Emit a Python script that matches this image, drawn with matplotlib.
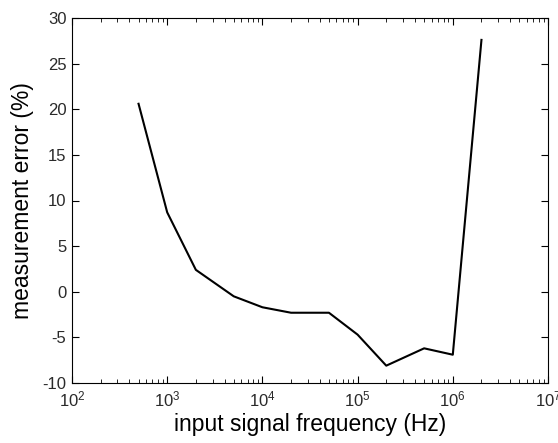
import matplotlib
matplotlib.use("Agg")
import matplotlib.pyplot as plt
import numpy as np
from matplotlib.ticker import LogLocator, NullFormatter

plt.rcParams['font.family'] = ['Liberation Sans', 'DejaVu Sans']
plt.rcParams['mathtext.fontset'] = 'custom'
plt.rcParams['mathtext.rm'] = 'Liberation Sans'
plt.rcParams['axes.unicode_minus'] = False

# input frequency (Hz) and measurement error (%)
freq = [500, 1000, 2000, 5000, 1e4, 2e4, 5e4, 1e5, 2e5, 5e5, 1e6, 2e6]
error = [20.6, 8.7, 2.4, -0.5, -1.7, -2.3, -2.3, -4.7, -8.1, -6.2, -6.9, 27.6]

yticks = [-10, -5, 0, 5, 10, 15, 20, 25, 30]

fig = plt.figure(figsize=(5.58, 4.43), dpi=100)
ax = fig.add_axes([72 / 558, 1 - 383 / 443, 476 / 558, 365 / 443])

ax.plot(freq, error, color='black', linewidth=1.5)

ax.set_xscale('log')
ax.set_xlim(1e2, 1e7)
ax.set_ylim(-10, 30)
ax.set_yticks(yticks)
ax.xaxis.set_major_locator(LogLocator(base=10, numticks=10))
ax.xaxis.set_minor_locator(LogLocator(base=10, subs=np.arange(2, 10), numticks=20))
ax.xaxis.set_minor_formatter(NullFormatter())

ax.tick_params(which='both', direction='in', top=True, right=True,
               labelsize=12, labelcolor='#2a2a2a')
ax.tick_params(axis='x', pad=5)
ax.tick_params(axis='y', pad=4)
ax.tick_params(which='major', length=5)
ax.tick_params(which='minor', length=3)

for s in ax.spines.values():
    s.set_linewidth(0.8)

ax.set_xlabel('input signal frequency (Hz)', fontsize=16.5, labelpad=2)
ax.set_ylabel('measurement error (%)', fontsize=16.5, labelpad=6)

fig.savefig('out.png', dpi=100)
